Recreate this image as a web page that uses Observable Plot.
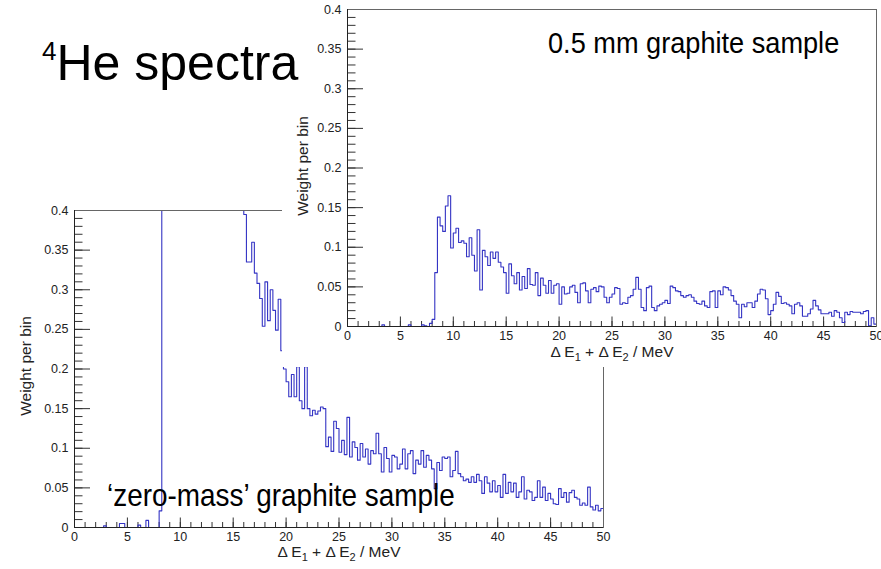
<!DOCTYPE html>
<html><head><meta charset="utf-8">
<script src="https://cdn.jsdelivr.net/npm/d3@7"></script>
<script src="https://cdn.jsdelivr.net/npm/@observablehq/plot@0.6"></script>
<style>
body{margin:0;background:#fff;}
#wrap{position:relative;width:881px;height:569px;overflow:hidden;background:#fff;}
#wrap svg{display:block;}
</style></head><body><div id="wrap"></div>
<script>
// ---- data ----
const binWidth = 0.25; // MeV per bin, 200 bins from 0 to 50 MeV
const xDomain = [0, 50];
const yDomain = [0, 0.4];
const xMajorTicks = [0, 5, 10, 15, 20, 25, 30, 35, 40, 45, 50];
const yMajorTicks = [0, 0.05, 0.1, 0.15, 0.2, 0.25, 0.3, 0.35, 0.4];
const xMinorTicks = d3.range(0, 51, 1);
const yMinorTicks = d3.range(0, 41, 1).map(i => i / 100);

// 'zero-mass' graphite sample (values above 0.4 shown clipped at 0.4)
const zeroMassValues = [
  0,0,0,0,0,0,0,0,0,0, 0,0.002,0,0,0,0,0,0.005,0.005,0,
  0,0,0,0,0.003,0,0,0.009,0,0, 0,0,0.021,0.4,0.4,0.4,0.4,0.4,0.4,0.4,
  0.4,0.4,0.4,0.4,0.4,0.4,0.4,0.4,0.4,0.4, 0.4,0.4,0.4,0.4,0.4,0.4,0.4,0.4,0.4,0.4,
  0.4,0.4,0.4,0.4,0.395,0.335,0.335,0.360,0.321,0.308, 0.289,0.254,0.310,0.261,0.300,0.274,0.249,0.288,0.223,0.200,
  0.184,0.165,0.193,0.165,0.203,0.160,0.150,0.203,0.150,0.141, 0.148,0.143,0.147,0.152,0.150,0.102,0.114,0.096,0.134,0.125,
  0.095,0.110,0.092,0.139,0.089,0.108,0.101,0.085,0.106,0.089, 0.099,0.080,0.097,0.093,0.119,0.093,0.070,0.101,0.087,0.070,
  0.091,0.089,0.074,0.080,0.099,0.074,0.093,0.097,0.068,0.085, 0.080,0.097,0.076,0.091,0.085,0.074,0.049,0.082,0.072,0.089,
  0.087,0.089,0.064,0.072,0.096,0.068,0.064,0.059,0.061,0.057, 0.064,0.057,0.067,0.059,0.043,0.064,0.056,0.045,0.059,0.045,
  0.053,0.038,0.067,0.043,0.057,0.045,0.056,0.038,0.045,0.064, 0.036,0.047,0.045,0.034,0.038,0.059,0.038,0.051,0.034,0.043,
  0.036,0.030,0.029,0.049,0.038,0.044,0.032,0.044,0.047,0.038, 0.036,0.028,0.031,0.028,0.051,0.026,0.022,0.028,0.021,0.024
];

// 0.5 mm graphite sample
const graphiteValues = [
  0,0,0,0,0,0,0,0,0,0, 0,0,0,0.002,0,0,0,0,0,0,
  0,0,0,0.002,0,0,0,0,0.002,0.001, 0,0.004,0.009,0.068,0.138,0.127,0.120,0.152,0.165,0.099,
  0.118,0.124,0.106,0.108,0.105,0.088,0.112,0.090,0.070,0.122, 0.046,0.096,0.088,0.077,0.094,0.086,0.094,0.081,0.075,0.068,
  0.042,0.079,0.064,0.054,0.068,0.046,0.063,0.048,0.073,0.053, 0.052,0.068,0.039,0.061,0.052,0.042,0.058,0.042,0.052,0.054,
  0.028,0.050,0.041,0.042,0.050,0.052,0.043,0.030,0.054,0.055, 0.045,0.030,0.047,0.049,0.044,0.051,0.050,0.037,0.030,0.037,
  0.041,0.049,0.048,0.028,0.030,0.029,0.037,0.039,0.047,0.062, 0.047,0.024,0.020,0.049,0.051,0.024,0.020,0.026,0.028,0.030,
  0.033,0.029,0.051,0.049,0.045,0.044,0.039,0.037,0.039,0.040, 0.037,0.032,0.029,0.028,0.032,0.026,0.024,0.044,0.045,0.024,
  0.045,0.040,0.050,0.049,0.046,0.039,0.032,0.028,0.011,0.028, 0.025,0.030,0.030,0.024,0.032,0.041,0.047,0.046,0.035,0.015,
  0.020,0.028,0.043,0.038,0.029,0.030,0.028,0.026,0.016,0.028, 0.030,0.026,0.013,0.013,0.016,0.022,0.033,0.026,0.021,0.016,
  0.016,0.016,0.018,0.013,0.020,0.018,0.011,0.005,0.018,0.015, 0.019,0.018,0.018,0.018,0.016,0.019,0.020,0.001,0.011,0.003
];

const yTitle = "Weight per bin";
const slideTitle = "He spectra";
const slideTitleSup = "4";
const upperLabel = "0.5 mm graphite sample";
const lowerLabel = "\u2018zero-mass\u2019 graphite sample";

// ---- styles ----
const FONT = "'Liberation Sans', Arial, Helvetica, sans-serif";
const LINE = "#3434c4";

function histPanel(values, o) {
  const data = values.map((v, i) => ({x: i * binWidth, y: v}));
  data.push({x: xDomain[1], y: values[values.length - 1]});
  const innerW = o.width - o.marginLeft - o.marginRight;
  const innerH = o.height - o.marginTop - o.marginBottom;
  return Plot.plot({
    width: o.width, height: o.height,
    marginLeft: o.marginLeft, marginRight: o.marginRight,
    marginTop: o.marginTop, marginBottom: o.marginBottom,
    style: {background: "#fff", fontFamily: FONT, fontSize: "12.5px", color: "#222", overflow: "visible"},
    x: {domain: xDomain},
    y: {domain: yDomain},
    marks: [
      Plot.tickY(yMinorTicks, {y: d => d, insetRight: innerW - 8.5, stroke: "#333"}),
      Plot.tickY(yMajorTicks, {y: d => d, insetRight: innerW - 16, stroke: "#333"}),
      Plot.tickX(xMinorTicks, {x: d => d, insetTop: innerH - 5, stroke: "#333"}),
      Plot.tickX(xMajorTicks, {x: d => d, insetTop: innerH - 9.5, stroke: "#333"}),
      Plot.line(data, {x: "x", y: "y", curve: "step-after", stroke: LINE, strokeWidth: 1.1}),
      Plot.frame({stroke: "#666"}),
      Plot.ruleX([xDomain[0]], {stroke: "#222"}),
      Plot.ruleY([yDomain[0]], {stroke: "#222"}),
      Plot.axisX({ticks: xMajorTicks, tickSize: 0, tickPadding: 5, label: null}),
      Plot.axisY({ticks: yMajorTicks, tickSize: 0, tickPadding: 6, label: null, tickFormat: d3.format("~g")})
    ]
  });
}

const wrap = document.getElementById("wrap");

// lower panel ('zero-mass')
const lower = histPanel(zeroMassValues, {width: 620, height: 569, marginLeft: 74, marginRight: 17, marginTop: 210, marginBottom: 42});
lower.style.position = "absolute"; lower.style.left = "0px"; lower.style.top = "0px";
wrap.appendChild(lower);

// upper panel (0.5 mm), opaque, pasted over the lower one
const upperBox = document.createElement("div");
Object.assign(upperBox.style, {position: "absolute", left: "282px", top: "0px", width: "599px", height: "367px", background: "#fff"});
const upper = histPanel(graphiteValues, {width: 599, height: 367, marginLeft: 65, marginRight: 5, marginTop: 9, marginBottom: 41});
upperBox.appendChild(upper);
wrap.appendChild(upperBox);

// text overlay
const ov = d3.create("svg").attr("width", 881).attr("height", 569)
  .style("position", "absolute").style("left", "0px").style("top", "0px")
  .style("font-family", FONT).style("pointer-events", "none");

function yAxisTitle(x, y) {
  ov.append("text").attr("transform", `translate(${x},${y}) rotate(-90)`)
    .attr("text-anchor", "middle").attr("font-size", 15.5).attr("fill", "#222").text(yTitle);
}
function xAxisTitle(x, y) {
  const t = ov.append("text").attr("x", x).attr("y", y).attr("text-anchor", "middle")
    .attr("font-size", 15.5).attr("fill", "#222");
  t.append("tspan").text("\u0394 E");
  t.append("tspan").attr("dy", 4).attr("font-size", 11).text("1");
  t.append("tspan").attr("dy", -4).text(" + \u0394 E");
  t.append("tspan").attr("dy", 4).attr("font-size", 11).text("2");
  t.append("tspan").attr("dy", -4).text(" / MeV");
}
yAxisTitle(31, 366);
yAxisTitle(308, 166);
xAxisTitle(339, 557);
xAxisTitle(612, 357);

const tt = ov.append("text").attr("transform", "translate(42,80)").attr("font-size", 50).attr("fill", "#000");
tt.append("tspan").attr("font-size", 26).attr("dy", -20).text(slideTitleSup);
tt.append("tspan").attr("dy", 20).text(slideTitle);

ov.append("text").attr("transform", "translate(548,53) scale(0.905,1)").attr("font-size", 30).attr("fill", "#000").text(upperLabel);
ov.append("text").attr("transform", "translate(107,506) scale(0.9,1)").attr("font-size", 31).attr("fill", "#000").text(lowerLabel);

wrap.appendChild(ov.node());
</script>
</body></html>
